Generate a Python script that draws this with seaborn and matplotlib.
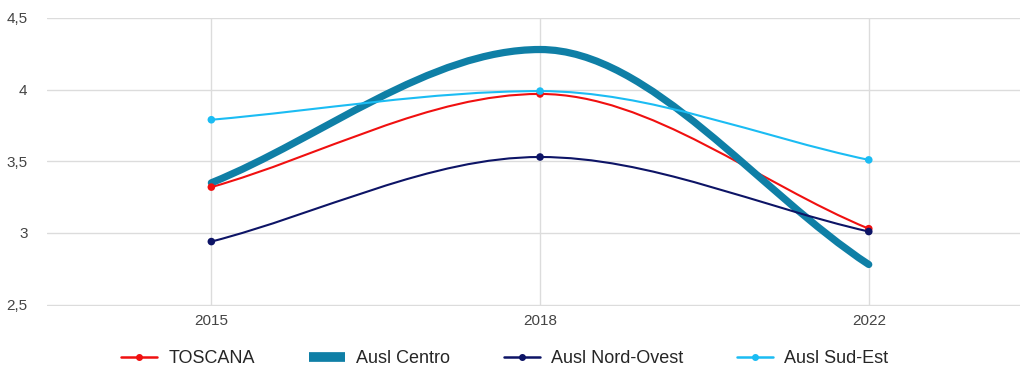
import matplotlib
matplotlib.use("Agg")
import matplotlib.pyplot as plt
from matplotlib.path import Path
from matplotlib.patches import PathPatch
from matplotlib.lines import Line2D
import seaborn as sns
import pandas as pd

years = ["2015", "2018", "2022"]
series_names = ["TOSCANA", "Ausl Centro", "Ausl Nord-Ovest", "Ausl Sud-Est"]
toscana = [3.32, 3.97, 3.03]
ausl_centro = [3.35, 4.28, 2.78]
ausl_nord_ovest = [2.94, 3.53, 3.01]
ausl_sud_est = [3.79, 3.99, 3.51]
y_ticks = [2.5, 3, 3.5, 4, 4.5]

colors = {"TOSCANA": "#f01010", "Ausl Centro": "#0f7fa6",
          "Ausl Nord-Ovest": "#0d1466", "Ausl Sud-Est": "#1bbcf3"}
widths = {"TOSCANA": 1.5, "Ausl Centro": 5.2, "Ausl Nord-Ovest": 1.5, "Ausl Sud-Est": 1.5}

values = dict(zip(series_names, [toscana, ausl_centro, ausl_nord_ovest, ausl_sud_est]))
df = pd.DataFrame([(n, i, y) for n, v in values.items() for i, y in enumerate(v)],
                  columns=["serie", "pos", "valore"])


def smooth_path(ys):
    # cubic bezier through the points, flat tangent at the peaks
    xs = list(range(len(ys)))
    slopes = []
    for i in range(len(ys)):
        if i == 0:
            slopes.append(ys[1] - ys[0])
        elif i == len(ys) - 1:
            slopes.append(ys[-1] - ys[-2])
        else:
            d0, d1 = ys[i] - ys[i - 1], ys[i + 1] - ys[i]
            slopes.append(0.0 if d0 * d1 <= 0 else 0.5 * (d0 + d1))
    verts, codes = [(xs[0], ys[0])], [Path.MOVETO]
    for i in range(len(ys) - 1):
        verts += [(xs[i] + 1 / 3, ys[i] + slopes[i] / 3),
                  (xs[i + 1] - 1 / 3, ys[i + 1] - slopes[i + 1] / 3),
                  (xs[i + 1], ys[i + 1])]
        codes += [Path.CURVE4] * 3
    return Path(verts, codes)


sns.set_style("white")
plt.rcParams["font.family"] = ["Liberation Sans", "DejaVu Sans"]

fig = plt.figure(figsize=(10.22, 3.67), dpi=100)
ax = fig.add_axes([0.046, 0.166, 0.952, 0.785])

for name in series_names:
    ax.add_patch(PathPatch(smooth_path(values[name]), facecolor="none",
                           edgecolor=colors[name], lw=widths[name],
                           capstyle="round", zorder=3))

pts = df[df["serie"] != "Ausl Centro"]
sns.scatterplot(data=pts, x="pos", y="valore", hue="serie", palette=colors,
                s=30, linewidth=0, legend=False, ax=ax, zorder=4)

ax.set_xlim(-0.5, 2.46)
ax.set_ylim(2.49, 4.5)
ax.set_xticks(range(len(years)))
ax.set_xticklabels(years)
ax.set_yticks(y_ticks)
ax.set_yticklabels([f"{t:g}".replace(".", ",") for t in y_ticks])
ax.grid(True, color="#dcdcdc", lw=1)
ax.tick_params(length=0, labelsize=11, colors="#444444")
ax.tick_params(axis="y", pad=14)
ax.tick_params(axis="x", pad=6)
ax.set_xlabel("")
ax.set_ylabel("")
for s in ax.spines.values():
    s.set_visible(False)

handles = []
for name in series_names:
    if name == "Ausl Centro":
        handles.append(Line2D([], [], color=colors[name], lw=7, solid_capstyle="butt"))
    else:
        handles.append(Line2D([], [], color=colors[name], lw=1.8, marker="o", markersize=4))
fig.legend(handles, series_names, loc="lower center", bbox_to_anchor=(0.494, -0.045),
           ncol=4, frameon=False, fontsize=13, handlelength=2.0, columnspacing=3.0,
           handletextpad=0.6)

fig.savefig("out.png", dpi=100)
